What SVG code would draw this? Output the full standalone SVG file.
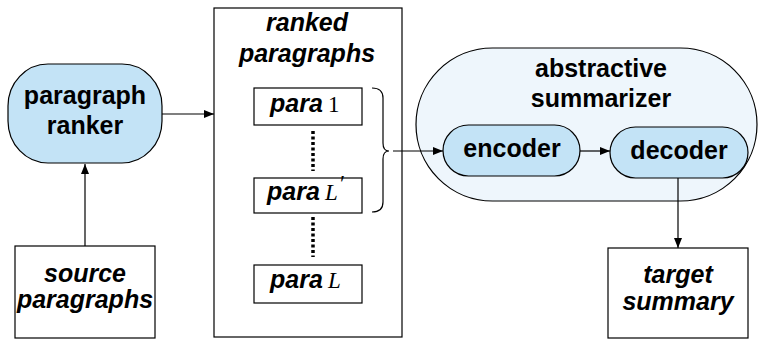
<svg xmlns="http://www.w3.org/2000/svg" width="759" height="342" viewBox="0 0 759 342">
<style>
.box{fill:#fff;stroke:#000;stroke-width:1.2}
.blue{fill:#c3e3f6;stroke:#000;stroke-width:1.2}
.lblue{fill:#eef6fc;stroke:#000;stroke-width:1.2}
.t{font-family:"Liberation Sans",Arial,sans-serif;font-weight:bold;font-size:25px;text-anchor:middle;fill:#000}
.ti{font-family:"Liberation Sans",Arial,sans-serif;font-weight:bold;font-style:italic;font-size:25px;text-anchor:middle;fill:#000}
.pi{font-family:"Liberation Sans",Arial,sans-serif;font-weight:bold;font-style:italic;font-size:25px}
.m{font-family:"Liberation Serif","Times New Roman",serif;font-size:23px}
.mi{font-family:"Liberation Serif","Times New Roman",serif;font-style:italic;font-size:23px}
.c{fill:none;stroke:#000;stroke-width:1.2}
.dot{fill:none;stroke:#000;stroke-width:3.5;stroke-dasharray:3,2.5}
</style>
<defs>
<marker id="ah" markerWidth="10" markerHeight="8" refX="10" refY="4" orient="auto" markerUnits="userSpaceOnUse">
<path d="M0,0 L10,4 L0,8 Z" fill="#000"/>
</marker>
</defs>
<g id="ranker">
<rect class="blue" x="8" y="64" width="154" height="99" rx="40" ry="42"/>
<text class="t" x="85" y="104">paragraph</text>
<text class="t" x="85" y="134">ranker</text>
</g>
<g id="source">
<rect class="box" x="15" y="246" width="140" height="92"/>
<text class="ti" x="85" y="282">source</text>
<text class="ti" x="85" y="308">paragraphs</text>
</g>
<g id="ranked">
<rect class="box" x="214" y="8" width="188" height="329"/>
<text class="ti" x="307" y="31">ranked</text>
<text class="ti" x="307" y="62">paragraphs</text>
</g>
<g id="para1">
<rect class="box" x="254" y="88" width="108" height="37"/>
<text x="270" y="112"><tspan class="pi">para</tspan><tspan class="m" x="328">1</tspan></text>
</g>
<g id="paraLp">
<rect class="box" x="254" y="178" width="108" height="35"/>
<text x="267" y="200"><tspan class="pi">para</tspan><tspan class="mi" x="325">L</tspan><tspan class="m" font-size="14" x="340" y="191">′</tspan></text>
</g>
<g id="paraL">
<rect class="box" x="254" y="265" width="108" height="38"/>
<text x="270" y="288"><tspan class="pi">para</tspan><tspan class="mi" x="328">L</tspan></text>
</g>
<g id="summarizer">
<rect class="lblue" x="416" y="48" width="341" height="153" rx="76.5" ry="76.5"/>
<text class="t" x="601" y="77">abstractive</text>
<text class="t" x="601" y="107">summarizer</text>
</g>
<g id="encoder">
<rect class="blue" x="443" y="125" width="137" height="51" rx="25.5" ry="25.5"/>
<text class="t" x="512" y="157">encoder</text>
</g>
<g id="decoder">
<rect class="blue" x="610" y="127" width="138" height="51" rx="25.5" ry="25.5"/>
<text class="t" x="679" y="159">decoder</text>
</g>
<g id="target">
<rect class="box" x="608" y="248" width="140" height="90"/>
<text class="ti" x="678" y="283">target</text>
<text class="ti" x="678" y="310">summary</text>
</g>
<g id="connectors">
<path class="c" d="M162,114 L214,114" marker-end="url(#ah)"/>
<path class="c" d="M85,246 L85,164" marker-end="url(#ah)"/>
<path class="c" d="M372,88 Q383,88 383,98 L383,143 Q383,151 389,151 Q383,151 383,159 L383,202 Q383,212 372,212"/>
<path class="c" d="M393,151 L443,151" marker-end="url(#ah)"/>
<path class="c" d="M580,151 L610,151" marker-end="url(#ah)"/>
<path class="c" d="M678,178 L678,248" marker-end="url(#ah)"/>
<path class="dot" d="M313,131 L313,171"/>
<path class="dot" d="M313,217 L313,257"/>
</g>
</svg>
